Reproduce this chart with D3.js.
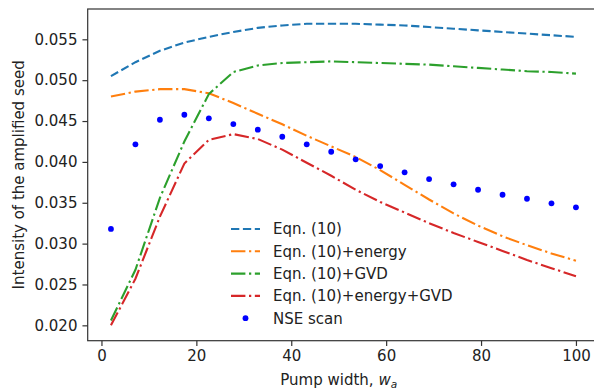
<!DOCTYPE html>
<html>
<head>
<meta charset="utf-8">
<script src="https://cdn.jsdelivr.net/npm/d3@7.9.0/dist/d3.min.js"></script>
<style>
  body { margin: 0; background: #fff; }
  svg { display: block; font-family: "DejaVu Sans", sans-serif; }
  .tick text { font-size: 15px; fill: #222; }
</style>
</head>
<body>
<svg id="chart" width="594" height="390"></svg>
<script>
// pump widths (20 samples, 2 .. 100)
const widths = [2, 7.16, 12.32, 17.47, 22.63, 27.79, 32.95, 38.11, 43.26, 48.42,
                53.58, 58.74, 63.89, 69.05, 74.21, 79.37, 84.53, 89.68, 94.84, 100];

const eqn10 = [0.0505, 0.0522, 0.0536, 0.0546, 0.0553, 0.0559, 0.0564, 0.0567, 0.0569, 0.0569,
               0.0569, 0.0568, 0.0567, 0.0565, 0.0563, 0.0561, 0.0559, 0.0557, 0.0555, 0.0553];
const eqnEnergy = [0.0480, 0.0486, 0.0489, 0.0489, 0.0484, 0.0472, 0.0459, 0.0446, 0.0432, 0.0419,
                   0.0406, 0.0390, 0.0372, 0.0354, 0.0337, 0.0322, 0.0309, 0.0298, 0.0288, 0.0279];
const eqnGVD = [0.0206, 0.0268, 0.0356, 0.0425, 0.0483, 0.0510, 0.0518, 0.0521, 0.0522, 0.0523,
                0.0522, 0.0521, 0.0520, 0.0519, 0.0517, 0.0515, 0.0513, 0.0511, 0.0510, 0.0508];
const eqnEnergyGVD = [0.0200, 0.0257, 0.0333, 0.0398, 0.0427, 0.0434, 0.0428, 0.0415, 0.0399, 0.0383,
                      0.0366, 0.0351, 0.0338, 0.0325, 0.0313, 0.0302, 0.0291, 0.0280, 0.0270, 0.0260];
const nseScan = [0.0318, 0.04215, 0.04516, 0.04577, 0.04533, 0.04463, 0.04394, 0.04308, 0.04215, 0.04124,
                 0.04031, 0.03949, 0.03872, 0.0379, 0.03725, 0.03659, 0.03598, 0.03549, 0.03493, 0.03444];

const xTicks = [0, 20, 40, 60, 80, 100];
const yTicks = [0.020, 0.025, 0.030, 0.035, 0.040, 0.045, 0.050, 0.055];

const lines = [
  { label: 'Eqn. (10)', values: eqn10, color: '#1f77b4', dash: '8.3,3.6' },
  { label: 'Eqn. (10)+energy', values: eqnEnergy, color: '#ff7f0e', dash: '14.4,3.6,2.25,3.6' },
  { label: 'Eqn. (10)+GVD', values: eqnGVD, color: '#2ca02c', dash: '14.4,3.6,2.25,3.6' },
  { label: 'Eqn. (10)+energy+GVD', values: eqnEnergyGVD, color: '#d62728', dash: '14.4,3.6,2.25,3.6' }
];

const svg = d3.select('#chart');
const plot = { left: 87.7, top: 9, right: 599.2, bottom: 340.7 };

const x = d3.scaleLinear().domain([-2.9, 104.9]).range([plot.left, plot.right]);
const y = d3.scaleLinear().domain([0.01812, 0.05871]).range([plot.bottom, plot.top]);

// curves
const lineGen = d3.line().x((d, i) => x(widths[i])).y(d => y(d));
lines.forEach(l => {
  svg.append('path')
    .attr('d', lineGen(l.values))
    .attr('fill', 'none')
    .attr('stroke', l.color)
    .attr('stroke-width', 2.1)
    .attr('stroke-dasharray', l.dash);
});

// NSE scan dots
svg.selectAll('circle.nse')
  .data(nseScan)
  .join('circle')
  .attr('class', 'nse')
  .attr('cx', (d, i) => x(widths[i]))
  .attr('cy', d => y(d))
  .attr('r', 2.9)
  .attr('fill', '#0000ff');

// frame
svg.append('rect')
  .attr('x', plot.left).attr('y', plot.top)
  .attr('width', plot.right - plot.left).attr('height', plot.bottom - plot.top)
  .attr('fill', 'none').attr('stroke', '#333').attr('stroke-width', 1.2);

// axes
const xAxis = svg.append('g')
  .attr('transform', `translate(0,${plot.bottom})`)
  .call(d3.axisBottom(x).tickValues(xTicks).tickSize(5.25).tickPadding(4));
const yAxis = svg.append('g')
  .attr('transform', `translate(${plot.left},0)`)
  .call(d3.axisLeft(y).tickValues(yTicks).tickFormat(d3.format('.3f')).tickSize(5.25).tickPadding(5));
[xAxis, yAxis].forEach(a => {
  a.select('.domain').remove();
  a.selectAll('.tick line').attr('stroke', '#333').attr('stroke-width', 1.2);
  a.attr('font-family', null).attr('font-size', null);
});

// axis labels
const xl = svg.append('text')
  .attr('x', (x(0) + x(100)) / 2).attr('y', 385)
  .attr('text-anchor', 'middle')
  .attr('font-size', 15).attr('fill', '#222');
xl.append('tspan').text('Pump width, ');
xl.append('tspan').attr('font-style', 'italic').text('w');
xl.append('tspan').attr('font-style', 'italic').attr('font-size', 10.5).attr('dy', 2.5).text('a');

svg.append('text')
  .attr('transform', `translate(24,${(plot.top + plot.bottom) / 2}) rotate(-90)`)
  .attr('text-anchor', 'middle')
  .attr('font-size', 15).attr('fill', '#222')
  .text('Intensity of the amplified seed');

// legend
const legend = svg.append('g').attr('transform', 'translate(231,229)');
const rowH = 22.3;
lines.forEach((l, i) => {
  const g = legend.append('g').attr('transform', `translate(0,${i * rowH})`);
  g.append('line')
    .attr('x1', 0).attr('x2', 29).attr('y1', 0).attr('y2', 0)
    .attr('stroke', l.color).attr('stroke-width', 2.1)
    .attr('stroke-dasharray', l.dash);
  g.append('text')
    .attr('x', 42).attr('y', 5.3)
    .attr('font-size', 15).attr('fill', '#222')
    .text(l.label);
});
const ng = legend.append('g').attr('transform', `translate(0,${lines.length * rowH})`);
ng.append('circle').attr('cx', 14.5).attr('cy', 0).attr('r', 2.9).attr('fill', '#0000ff');
ng.append('text').attr('x', 42).attr('y', 5.3)
  .attr('font-size', 15).attr('fill', '#222').text('NSE scan');
</script>
</body>
</html>
